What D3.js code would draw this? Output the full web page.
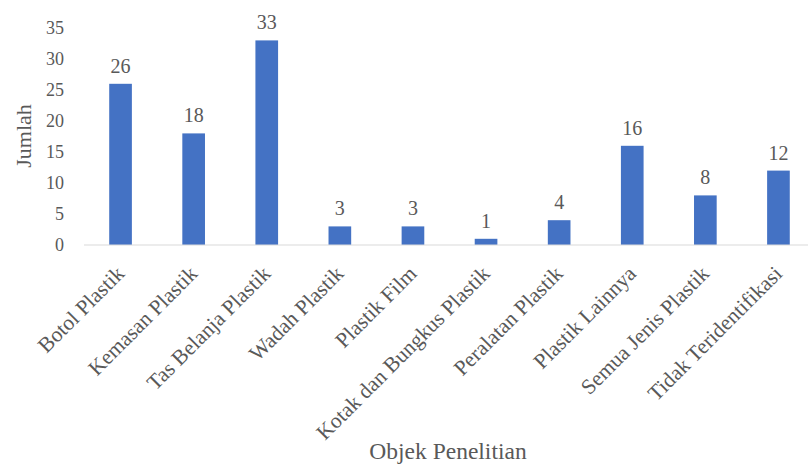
<!DOCTYPE html>
<html>
<head>
<meta charset="utf-8">
<script src="https://cdn.jsdelivr.net/npm/d3@7"></script>
<style>
  html, body { margin: 0; padding: 0; background: #fff; }
  svg { display: block; }
</style>
</head>
<body>
<svg id="chart" width="808" height="467"></svg>
<script>
// Jenis sampah plastik yang ditemukan
const categories = [
  "Botol Plastik", "Kemasan Plastik", "Tas Belanja Plastik", "Wadah Plastik",
  "Plastik Film", "Kotak dan Bungkus Plastik", "Peralatan Plastik",
  "Plastik Lainnya", "Semua Jenis Plastik", "Tidak Teridentifikasi"
];
const values = [26, 18, 33, 3, 3, 1, 4, 16, 8, 12];
const yTicks = [0, 5, 10, 15, 20, 25, 30, 35];

const FONT = '"Liberation Serif", "Times New Roman", serif';
const TEXT_COLOR = "#595959";

const svg = d3.select("#chart");
const plot = { left: 84, right: 815, top: 28, bottom: 245 };

const x = d3.scaleBand().domain(categories).range([plot.left, plot.right]).padding(0);
const y = d3.scaleLinear().domain([0, 35]).range([plot.bottom, plot.top]);
const barW = x.bandwidth() * 0.31;

// Y axis: labels only, no line
const yAxis = svg.append("g")
  .attr("transform", `translate(${plot.left},0)`)
  .call(d3.axisLeft(y).tickValues(yTicks).tickSize(0).tickPadding(20));
yAxis.select(".domain").remove();
yAxis.selectAll("text")
  .style("font-family", FONT)
  .style("font-size", "18px")
  .attr("fill", TEXT_COLOR);

// Bars
svg.append("g").selectAll("rect")
  .data(categories)
  .join("rect")
  .attr("x", (d) => x(d) + x.bandwidth() / 2 - barW / 2)
  .attr("width", barW)
  .attr("y", (d, i) => y(values[i]))
  .attr("height", (d, i) => y(0) - y(values[i]))
  .attr("fill", "#4472C4");

// Baseline
svg.append("line")
  .attr("x1", plot.left).attr("x2", plot.right)
  .attr("y1", y(0)).attr("y2", y(0))
  .attr("stroke", "#d9d9d9").attr("stroke-width", 1.2);

const labels = svg.append("g").attr("fill", TEXT_COLOR);

// Value labels
labels.append("g").selectAll("text")
  .data(categories)
  .join("text")
  .attr("x", (d) => x(d) + x.bandwidth() / 2)
  .attr("y", (d, i) => y(values[i]) - 11)
  .attr("text-anchor", "middle")
  .style("font-family", FONT)
  .style("font-size", "20px")
  .text((d, i) => values[i]);

// Category labels, rotated
labels.append("g").selectAll("text")
  .data(categories)
  .join("text")
  .attr("transform", (d) => `translate(${x(d) + x.bandwidth() / 2 + 5},${plot.bottom + 30}) rotate(-45)`)
  .attr("text-anchor", "end")
  .style("font-family", FONT)
  .style("font-size", "21.5px")
  .text((d) => d);

// Axis titles
labels.append("text")
  .attr("transform", `translate(31,136) rotate(-90)`)
  .attr("text-anchor", "middle")
  .style("font-family", FONT)
  .style("font-size", "22px")
  .text("Jumlah");

labels.append("text")
  .attr("x", 448).attr("y", 459)
  .attr("text-anchor", "middle")
  .style("font-family", FONT)
  .style("font-size", "23.5px")
  .text("Objek Penelitian");
</script>
</body>
</html>
